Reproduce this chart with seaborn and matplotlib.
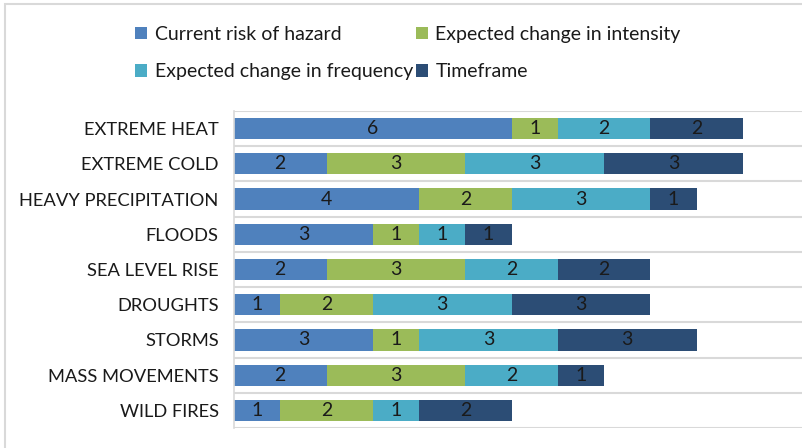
import matplotlib
matplotlib.use("Agg")
import matplotlib.pyplot as plt
import seaborn as sns
import pandas as pd
import numpy as np
from matplotlib.patches import Patch, Rectangle

categories = ["EXTREME HEAT", "EXTREME COLD", "HEAVY PRECIPITATION", "FLOODS",
              "SEA LEVEL RISE", "DROUGHTS", "STORMS", "MASS MOVEMENTS", "WILD FIRES"]
current_risk = [6, 2, 4, 3, 2, 1, 3, 2, 1]
change_intensity = [1, 3, 2, 1, 3, 2, 1, 3, 2]
change_frequency = [2, 3, 3, 1, 2, 3, 3, 2, 1]
timeframe = [2, 3, 1, 1, 2, 3, 3, 1, 2]
series_names = ["Current risk of hazard", "Expected change in intensity",
                "Expected change in frequency", "Timeframe"]
colors = ["#4F81BD", "#9BBB59", "#4BACC6", "#2C4D75"]

sns.set_theme(style="white")
plt.rcParams['font.family'] = ['Lato', 'DejaVu Sans']

series = [current_risk, change_intensity, change_frequency, timeframe]
arr = np.array(series, dtype=float)
cum = np.cumsum(arr, axis=0)

fig = plt.figure(figsize=(8.03, 4.48), dpi=100)
ax = fig.add_axes([234/803, 1 - 428/448, 1 - 234/803, (428 - 111) / 448])

for i in range(3, -1, -1):
    df = pd.DataFrame({"cat": categories, "val": cum[i]})
    sns.barplot(data=df, x="val", y="cat", orient="h", color=colors[i],
                saturation=1, width=0.6, ax=ax, linewidth=0, edgecolor="none")

for i in range(4):
    for j, cat in enumerate(categories):
        start = cum[i][j] - arr[i][j]
        ax.text(start + arr[i][j] / 2, j, f"{int(arr[i][j])}", ha="center", va="center",
                fontsize=14, color="#1a1a1a")

ax.set_xlim(0, 12.3)
ax.set_ylim(len(categories) - 0.5, -0.5)
ax.set_xlabel("")
ax.set_ylabel("")
ax.set_xticks([])
ax.tick_params(axis="y", length=0, labelsize=13.2, pad=11, labelcolor="#1a1a1a")
for b in np.arange(-0.5, len(categories), 1.0):
    ax.axhline(b, color="#D9D9D9", lw=1.5, zorder=0)
for s in ["top", "right", "bottom"]:
    ax.spines[s].set_visible(False)
ax.spines["left"].set_color("#D9D9D9")
ax.spines["left"].set_linewidth(1.2)

handles = [Patch(facecolor=c, edgecolor="none") for c in colors]
order = [0, 2, 1, 3]
fig.legend([handles[k] for k in order], [series_names[k] for k in order],
           ncol=2, loc="center", bbox_to_anchor=(0.508, 1 - 53/448),
           frameon=False, fontsize=14, handlelength=0.6, handleheight=0.6,
           handletextpad=0.4, columnspacing=0.15, labelspacing=1.05,
           labelcolor="#1a1a1a")

fig.patches.append(Rectangle((5/803, -0.01), 1.0, 1 - 4/448 + 0.01,
                             transform=fig.transFigure, fill=False,
                             edgecolor="#D9D9D9", lw=1.5))

fig.savefig("out.png", dpi=100)
